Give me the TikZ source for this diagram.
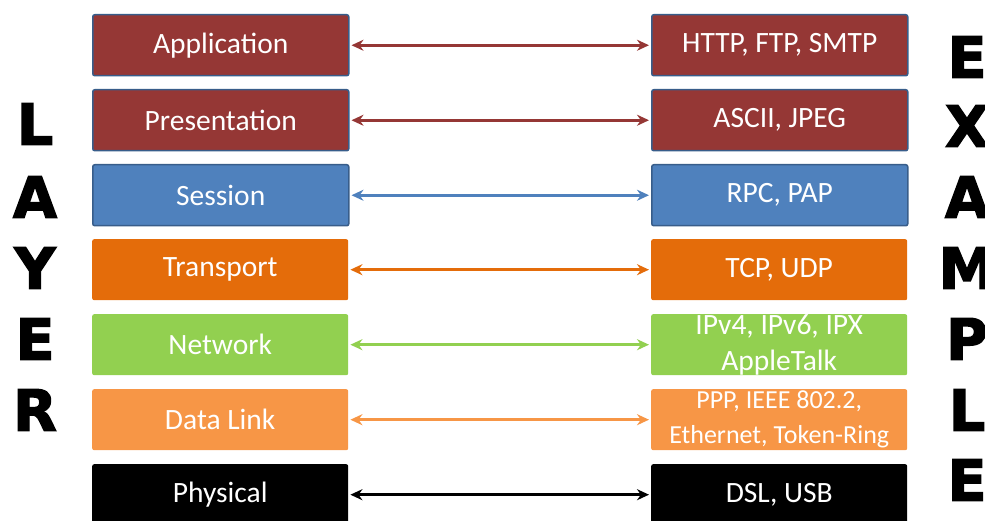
\documentclass[tikz,border=0pt]{standalone}
\usepackage{fontspec}
\setmainfont{Carlito}
\newfontfamily\heavyfont{DejaVu Sans Bold}[FakeBold=2.5]
\usetikzlibrary{arrows.meta}
\definecolor{cred}{HTML}{953735}
\definecolor{cblue}{HTML}{4F81BD}
\definecolor{cborder}{HTML}{385D8A}
\definecolor{corange}{HTML}{E46C0A}
\definecolor{cgreen}{HTML}{92D050}
\definecolor{clorange}{HTML}{F79646}
\definecolor{cblack}{HTML}{000000}
\begin{document}
\begin{tikzpicture}[x=1pt,y=-1pt,
  layerbox/.style={rectangle, rounded corners=2pt, minimum width=256pt, minimum height=61pt,
    inner sep=0pt, anchor=north west, text=white, font=\fontsize{29.5}{31}\selectfont, align=center},
  smalltext/.style={font=\fontsize{26}{35}\selectfont},
  bordered/.style={draw=cborder, line width=1.5pt},
  link/.style={line width=3pt, {Stealth[length=12pt,width=11pt]}-{Stealth[length=12pt,width=11pt]}, shorten <=2pt, shorten >=2pt},
  bigletter/.style={font=\heavyfont\fontsize{57}{60}\selectfont, inner sep=0pt, anchor=center}
]
\useasboundingbox (0,0) rectangle (985,521);
\clip (0,0) rectangle (985,521);
% left column
\node[layerbox, bordered, fill=cred] (l1) at (92,14) {Application};
\node[layerbox, bordered, fill=cred] (l2) at (92,89) {Presentation};
\node[layerbox, bordered, fill=cblue] (l3) at (92,164) {Session};
\node[layerbox, fill=corange] (l4) at (92,239) {Transport};
\node[layerbox, fill=cgreen] (l5) at (92,314) {Network};
\node[layerbox, fill=clorange] (l6) at (92,389) {Data Link};
\node[layerbox, fill=cblack] (l7) at (92,464) {Physical};
% right column
\node[layerbox, bordered, fill=cred] (r1) at (651,14) {HTTP, FTP, SMTP};
\node[layerbox, bordered, fill=cred] (r2) at (651,89) {ASCII, JPEG};
\node[layerbox, bordered, fill=cblue] (r3) at (651,164) {RPC, PAP};
\node[layerbox, fill=corange] (r4) at (651,239) {TCP, UDP};
\node[layerbox, fill=cgreen, font=\fontsize{29.5}{36}\selectfont] (r5) at (651,314) {IPv4, IPv6, IPX\\AppleTalk};
\node[layerbox, fill=clorange, smalltext] (r6) at (651,389) {PPP, IEEE 802.2,\\Ethernet, Token-Ring};
\node[layerbox, fill=cblack] (r7) at (651,464) {DSL, USB};
% connectors
\draw[link, cred] (l1.east) -- (r1.west);
\draw[link, cred] (l2.east) -- (r2.west);
\draw[link, cblue] (l3.east) -- (r3.west);
\draw[link, corange] (l4.east) -- (r4.west);
\draw[link, cgreen] (l5.east) -- (r5.west);
\draw[link, clorange] (l6.east) -- (r6.west);
\draw[link, cblack] (l7.east) -- (r7.west);
% LAYER
\node[bigletter] (ly1) at (35,124) {L};
\node[bigletter] (ly2) at (35,197) {A};
\node[bigletter] (ly3) at (35,268) {Y};
\node[bigletter] (ly4) at (35,339) {E};
\node[bigletter] (ly5) at (35,410) {R};
% EXAMPLE
\node[bigletter] (ex1) at (967,57) {E};
\node[bigletter] (ex2) at (967,126) {X};
\node[bigletter] (ex3) at (967,197) {A};
\node[bigletter] (ex4) at (967,268) {M};
\node[bigletter] (ex5) at (967,339) {P};
\node[bigletter] (ex6) at (967,410) {L};
\node[bigletter] (ex7) at (967,480) {E};
\end{tikzpicture}
\end{document}
